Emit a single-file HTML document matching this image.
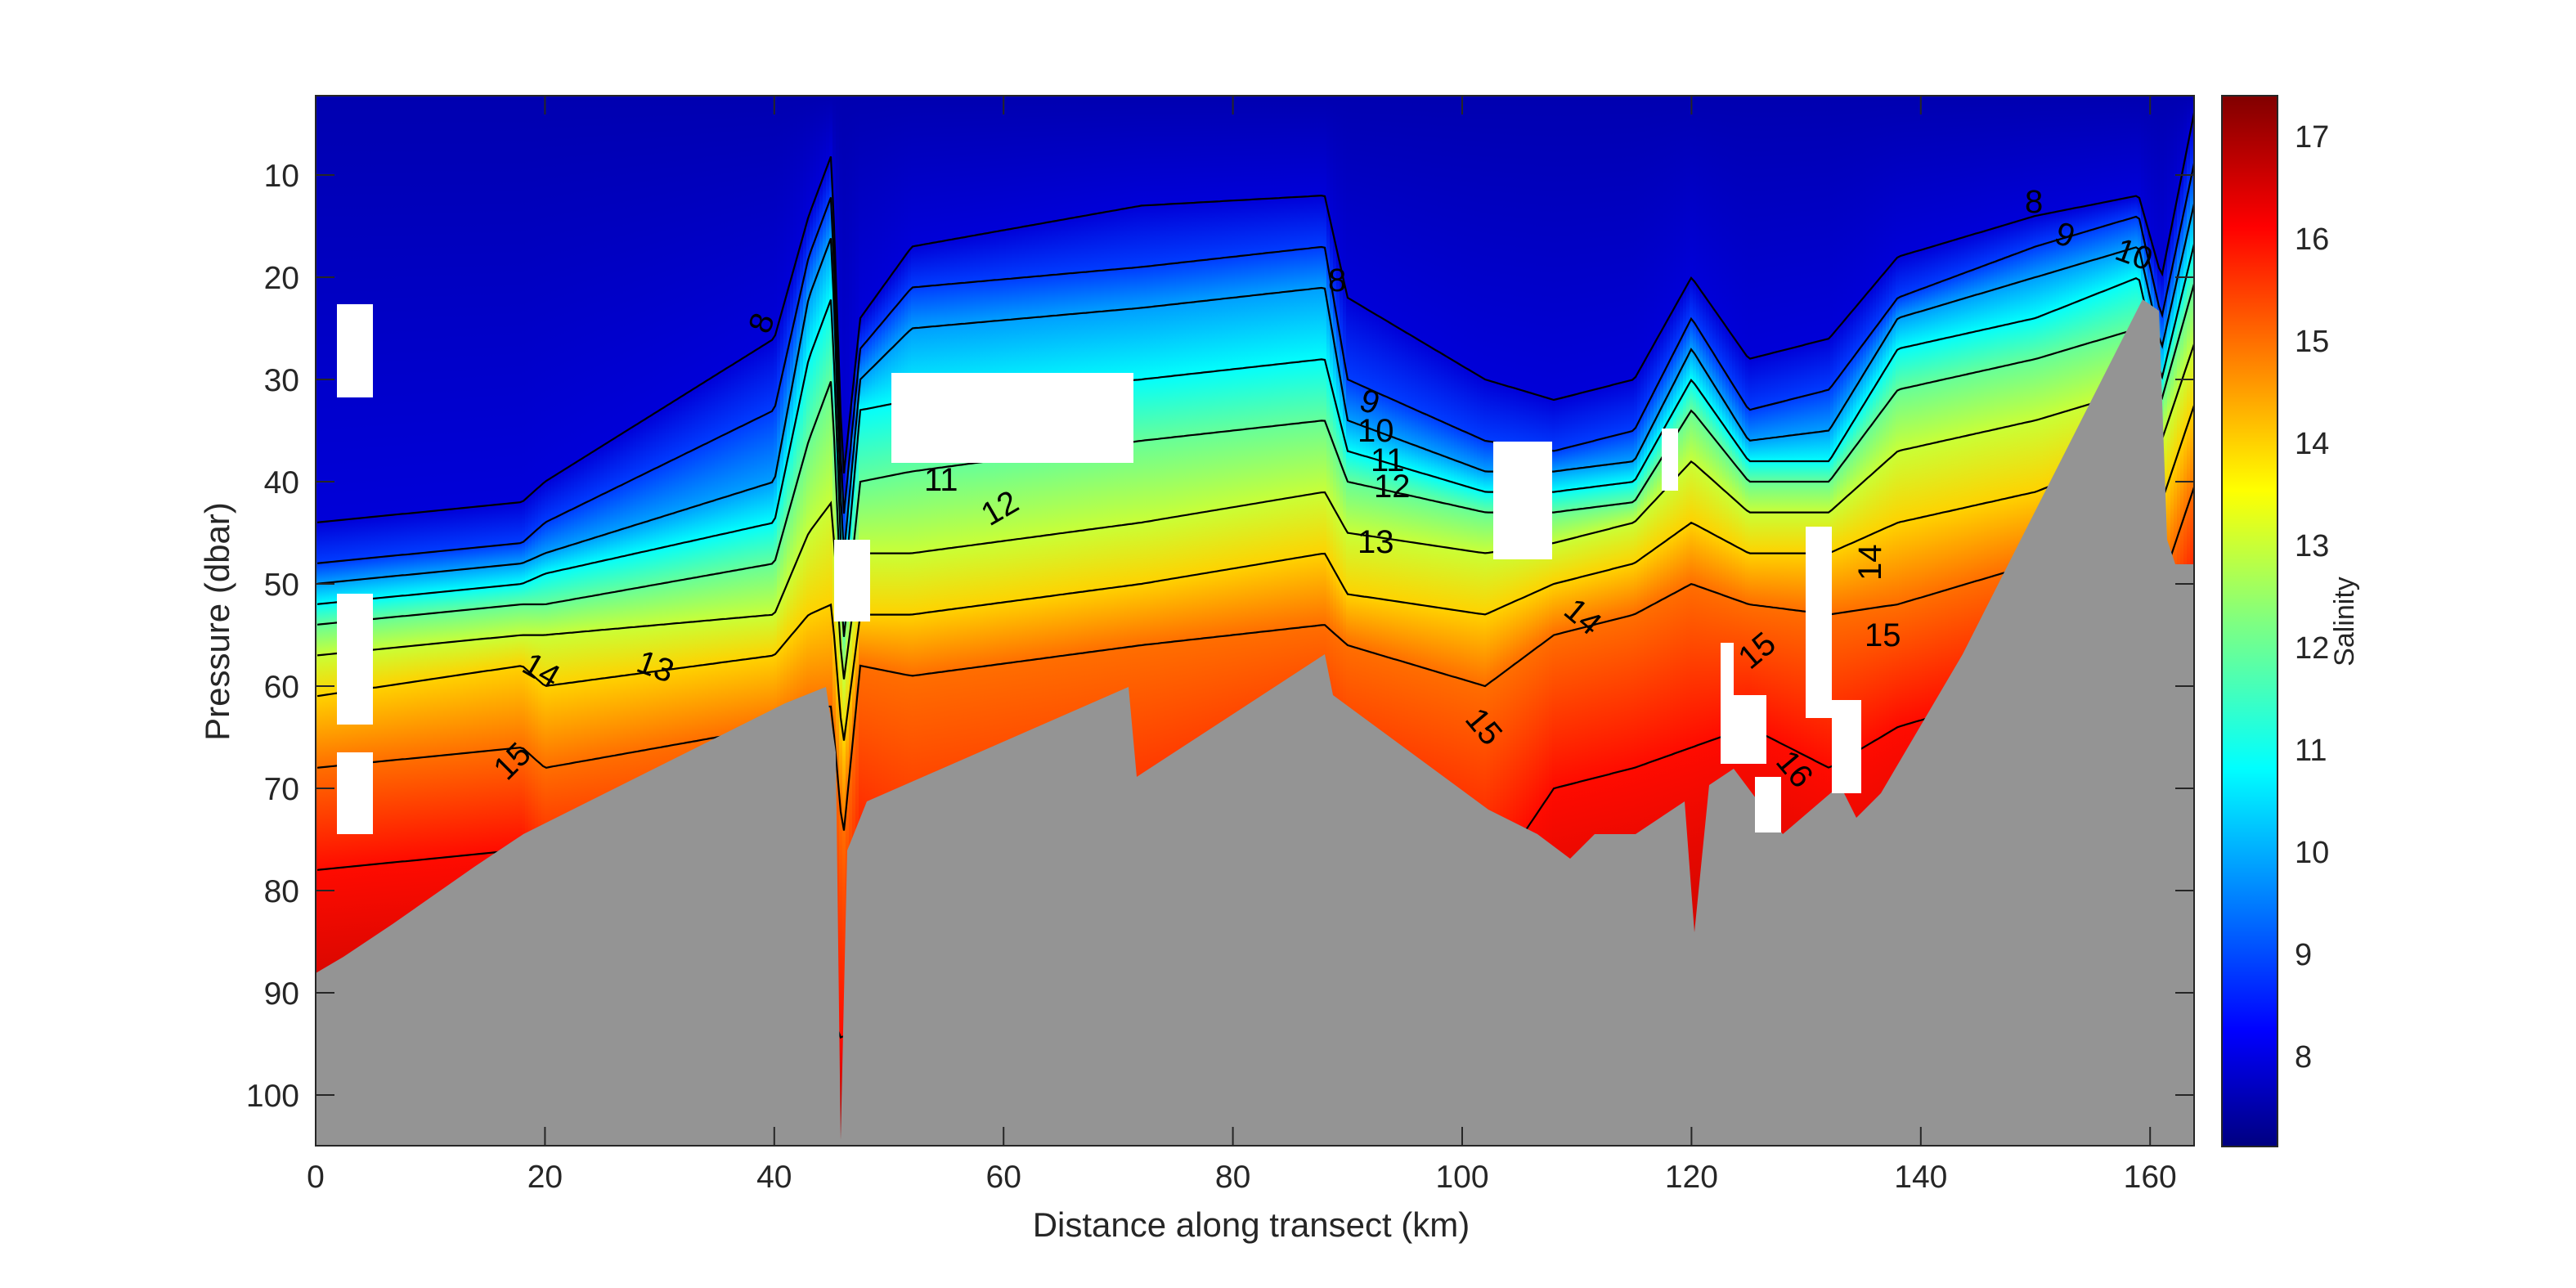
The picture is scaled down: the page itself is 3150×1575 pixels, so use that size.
<!DOCTYPE html>
<html><head><meta charset="utf-8"><style>
html,body{margin:0;padding:0;background:#fff}
svg{display:block}
text{font-family:"Liberation Sans",Arial,sans-serif;fill:#262626}
</style></head><body>
<svg id="s" xmlns="http://www.w3.org/2000/svg" width="3150" height="1575" viewBox="0 0 1575 787.5">
<defs>
<clipPath id="pc"><rect x="193" y="58.5" width="1148.5" height="642"/></clipPath>
<linearGradient id="cbg" x1="0" y1="701" x2="0" y2="58.5" gradientUnits="userSpaceOnUse">
<stop offset="0" stop-color="#000080"/><stop offset="0.11" stop-color="#0000ff"/><stop offset="0.36" stop-color="#00ffff"/><stop offset="0.5" stop-color="#80ff80"/><stop offset="0.625" stop-color="#ffff00"/><stop offset="0.875" stop-color="#ff0000"/><stop offset="1" stop-color="#800000"/>
</linearGradient>
</defs>
<g id="heat" clip-path="url(#pc)"></g>
<g id="cont" clip-path="url(#pc)" fill="none" stroke="#000" stroke-width="1.1"></g>
<g clip-path="url(#pc)">
<polygon fill="#949494" points="193,595 210,585 240,565 290,530 320,510 330,505 480,430 505,420 511,460 514,697 518,520 530,490 690,420 695,475 810,400 815,425 910,495 940,510 960,525 975,510 1000,510 1030,490 1036,570 1045,480 1060,470 1090,510 1125,480 1135,500 1150,485 1200,400 1310,183 1320,190 1325,330 1330,345 1342,345 1342,701 193,701"/>
<g fill="#fff">
<rect x="206" y="186" width="22" height="57"/><rect x="206" y="363" width="22" height="80"/><rect x="206" y="460" width="22" height="50"/>
<rect x="545" y="228" width="148" height="55"/><rect x="510" y="330" width="22" height="50"/><rect x="913" y="270" width="36" height="72"/>
<rect x="1016" y="262" width="10" height="38"/><rect x="1052" y="393" width="8" height="32"/><rect x="1052" y="425" width="28" height="42"/>
<rect x="1073" y="475" width="16" height="34"/><rect x="1104" y="322" width="16" height="117"/><rect x="1120" y="428" width="18" height="57"/>
</g>
</g>
<g font-size="20">
<text x="470" y="205" transform="rotate(-70 470 205)" style="fill:#000">8</text>
<text x="812" y="178" style="fill:#000">8</text>
<text x="310" y="478" style="fill:#000" transform="rotate(-45 310 478)">15</text>
<text x="318" y="410" style="fill:#000" transform="rotate(30 318 410)">14</text>
<text x="388" y="410" style="fill:#000" transform="rotate(20 388 410)">13</text>
<text x="565" y="300" style="fill:#000">11</text>
<text x="605" y="322" style="fill:#000" transform="rotate(-30 605 322)">12</text>
<text x="830" y="250" style="fill:#000" transform="rotate(20 830 250)">9</text>
<text x="830" y="270" style="fill:#000">10</text>
<text x="838" y="288" style="fill:#000">11</text>
<text x="840" y="304" style="fill:#000">12</text>
<text x="830" y="338" style="fill:#000">13</text>
<text x="895" y="440" style="fill:#000" transform="rotate(50 895 440)">15</text>
<text x="1070" y="410" style="fill:#000" transform="rotate(-40 1070 410)">15</text>
<text x="1085" y="466" style="fill:#000" transform="rotate(50 1085 466)">16</text>
<text x="1140" y="395" style="fill:#000">15</text>
<text x="1150" y="355" style="fill:#000" transform="rotate(-90 1150 355)">14</text>
<text x="1238" y="130" style="fill:#000">8</text>
<text x="1255" y="148" style="fill:#000" transform="rotate(20 1255 148)">9</text>
<text x="1292" y="158" style="fill:#000" transform="rotate(20 1292 158)">10</text>
<text x="955" y="375" style="fill:#000" transform="rotate(40 955 375)">14</text>
</g>
<rect x="193" y="58.5" width="1148.5" height="642" fill="none" stroke="#262626" stroke-width="1"/>
<g stroke="#262626" stroke-width="1" id="ticks"></g>
<g font-size="19.5" text-anchor="middle">
<text x="193" y="726">0</text><text x="333.2" y="726">20</text><text x="473.4" y="726">40</text><text x="613.6" y="726">60</text><text x="753.8" y="726">80</text><text x="894" y="726">100</text><text x="1034.2" y="726">120</text><text x="1174.4" y="726">140</text><text x="1314.6" y="726">160</text>
</g>
<g font-size="19.5" text-anchor="end">
<text x="183" y="114">10</text><text x="183" y="176.5">20</text><text x="183" y="239">30</text><text x="183" y="301.5">40</text><text x="183" y="364">50</text><text x="183" y="426.5">60</text><text x="183" y="489">70</text><text x="183" y="551.5">80</text><text x="183" y="614">90</text><text x="183" y="676.5">100</text>
</g>
<text x="765" y="756" font-size="21" text-anchor="middle">Distance along transect (km)</text>
<text x="140" y="380" font-size="21" text-anchor="middle" transform="rotate(-90 140 380)">Pressure (dbar)</text>
<rect x="1358.5" y="58.5" width="34" height="642.5" fill="url(#cbg)" stroke="#262626" stroke-width="1"/>
<g font-size="19">
<text x="1403" y="90">17</text><text x="1403" y="152.5">16</text><text x="1403" y="215">15</text><text x="1403" y="277.5">14</text><text x="1403" y="340">13</text><text x="1403" y="402.5">12</text><text x="1403" y="465">11</text><text x="1403" y="527.5">10</text><text x="1403" y="590">9</text><text x="1403" y="652.5">8</text>
</g>
<text x="1439" y="380" font-size="17" text-anchor="middle" transform="rotate(-90 1439 380)">Salinity</text>
</svg>
<script>
(function(){
var NS="http://www.w3.org/2000/svg";
var P=[[0,[44,48,50,52,54,57,61,68,78]],[18,[42,46,48,50,52,55,58,66,76]],[20,[40,44,47,49,52,55,60,68,80]],[40,[26,33,40,44,48,53,57,64,80]],[43,[14,18,22,28,36,45,53,62,85]],[45,[8,12,16,22,30,42,52,62,92]],[46,[40,44,48,52,56,60,66,75,95]],[47.5,[24,27,30,33,40,47,53,58,80]],[52,[17,21,25,32,39,47,53,59,85]],[72,[13,19,23,30,36,44,50,56,80]],[88,[12,17,21,28,34,41,47,54,70]],[90,[22,30,34,37,40,45,51,56,75]],[102,[30,36,39,41,43,47,53,60,80]],[108,[32,37,39,41,43,46,50,55,70]],[115,[30,35,38,40,42,44,48,53,68]],[120,[20,24,27,30,33,38,44,50,66]],[125,[28,33,36,38,40,43,47,52,64]],[132,[26,31,35,38,40,43,47,53,68]],[138,[18,22,24,27,31,37,44,52,64]],[150,[14,17,20,24,28,34,41,48,60]],[159,[12,14,17,20,25,31,37,44,58]],[161,[20,24,27,30,32,36,42,50,60]],[164,[3,8,12,16,20,26,32,40,50]]];
function prof(k){for(var i=0;i<P.length-1;i++){if(k<=P[i+1][0]){var a=P[i],b=P[i+1],t=(k-a[0])/(b[0]-a[0]);return a[1].map(function(v,j){return v+(b[1][j]-v)*t;});}}return P[P.length-1][1];}
function c(v){return Math.round(255*Math.max(0,Math.min(1,v)));}
function jet(s){var t=(s-7.11)/(17.4-7.11);return "rgb("+c(1.5-Math.abs(4*t-3))+","+c(1.5-Math.abs(4*t-2))+","+c(1.5-Math.abs(4*t-1))+")";}
function py(p){return 44.5+6.25*p;}
var defs=document.querySelector("defs"),heat=document.getElementById("heat"),cont=document.getElementById("cont");
var step=2,lines=[];for(var j=0;j<9;j++)lines.push([]);
for(var x=193;x<1342;x+=step){
 var k=(x+step/2-193)/7.01,d=prof(k),id="g"+x;
 var g=document.createElementNS(NS,"linearGradient");g.setAttribute("id",id);g.setAttribute("gradientUnits","userSpaceOnUse");
 g.setAttribute("x1",0);g.setAttribute("x2",0);g.setAttribute("y1",58.5);g.setAttribute("y2",701);
 var st=[[2,7.6]];for(var j=0;j<9;j++)st.push([d[j],8+j]);st.push([105,17.1]);
 var last=-1;st.forEach(function(s){var o=(py(s[0])-58.5)/642.5;o=Math.max(last,Math.max(0,Math.min(1,o)));last=o;var e=document.createElementNS(NS,"stop");e.setAttribute("offset",o);e.setAttribute("stop-color",jet(s[1]));g.appendChild(e);});
 defs.appendChild(g);
 var r=document.createElementNS(NS,"rect");r.setAttribute("x",x);r.setAttribute("y",58.5);r.setAttribute("width",step+0.6);r.setAttribute("height",642.5);r.setAttribute("fill","url(#"+id+")");heat.appendChild(r);
 for(var j=0;j<9;j++)lines[j].push((x+1)+","+py(d[j]).toFixed(1));
}
lines.forEach(function(l){var e=document.createElementNS(NS,"polyline");e.setAttribute("points",l.join(" "));cont.appendChild(e);});
var tk=document.getElementById("ticks"),h="";
for(var i=0;i<=8;i++){var X=193+140.2*i;h+='<line x1="'+X+'" y1="700.5" x2="'+X+'" y2="689"/><line x1="'+X+'" y1="58.5" x2="'+X+'" y2="70"/>';}
for(var i=1;i<=10;i++){var Y=44.5+62.5*i;h+='<line x1="193" y1="'+Y+'" x2="204.5" y2="'+Y+'"/><line x1="1341.5" y1="'+Y+'" x2="1330" y2="'+Y+'"/>';}
for(var i=0;i<10;i++){var Y=83.5+62.5*i;h+='<line x1="1392.5" y1="'+Y+'" x2="1385" y2="'+Y+'"/>';}
tk.innerHTML=h;
})();
</script>
</body></html>
